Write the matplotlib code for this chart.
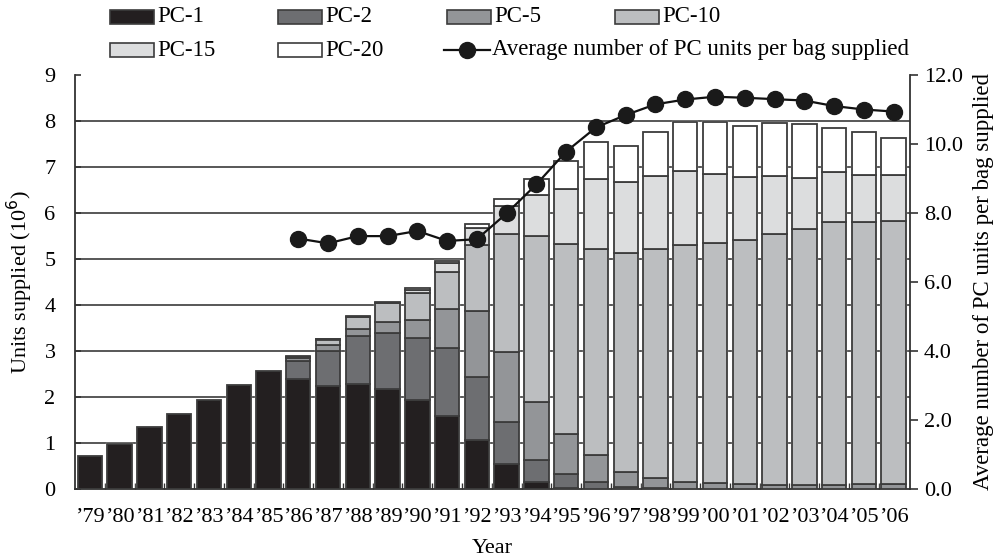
import matplotlib
matplotlib.use("Agg")
import matplotlib.pyplot as plt
import numpy as np
from matplotlib.patches import Rectangle
from matplotlib.lines import Line2D

plt.rcParams['font.family'] = ['Liberation Serif', 'DejaVu Serif']

years = ["\u201979", "\u201980", "\u201981", "\u201982", "\u201983", "\u201984", "\u201985",
         "\u201986", "\u201987", "\u201988", "\u201989", "\u201990", "\u201991", "\u201992",
         "\u201993", "\u201994", "\u201995", "\u201996", "\u201997", "\u201998", "\u201999",
         "\u201900", "\u201901", "\u201902", "\u201903", "\u201904", "\u201905", "\u201906"]

pc1 = [0.72, 0.97, 1.34, 1.62, 1.94, 2.26, 2.57, 2.39, 2.24, 2.28, 2.17, 1.93, 1.59, 1.07,
       0.54, 0.16, 0.03, 0, 0, 0, 0, 0, 0, 0, 0, 0, 0, 0]
pc2 = [0, 0, 0, 0, 0, 0, 0, 0.39, 0.76, 1.04, 1.22, 1.36, 1.47, 1.36,
       0.91, 0.47, 0.29, 0.15, 0.05, 0.03, 0, 0, 0, 0, 0, 0, 0, 0]
pc5 = [0, 0, 0, 0, 0, 0, 0, 0.06, 0.12, 0.15, 0.25, 0.38, 0.85, 1.44,
       1.53, 1.27, 0.87, 0.58, 0.33, 0.22, 0.16, 0.12, 0.10, 0.09, 0.08, 0.08, 0.10, 0.10]
pc10 = [0, 0, 0, 0, 0, 0, 0, 0.03, 0.13, 0.28, 0.41, 0.60, 0.80, 1.43,
        2.56, 3.59, 4.13, 4.49, 4.76, 4.97, 5.14, 5.22, 5.31, 5.45, 5.57, 5.73, 5.70, 5.73]
pc15 = [0, 0, 0, 0, 0, 0, 0, 0.02, 0.02, 0.01, 0.02, 0.05, 0.21, 0.37,
        0.62, 0.90, 1.21, 1.52, 1.53, 1.58, 1.62, 1.51, 1.37, 1.26, 1.10, 1.09, 1.03, 1.00]
pc20 = [0, 0, 0, 0, 0, 0, 0, 0, 0, 0, 0, 0.04, 0.04, 0.08,
        0.15, 0.34, 0.59, 0.80, 0.79, 0.95, 1.05, 1.12, 1.12, 1.15, 1.18, 0.94, 0.92, 0.81]
avg_units = [np.nan] * 7 + [7.26, 7.12, 7.33, 7.33, 7.48, 7.19, 7.24, 7.99, 8.83, 9.78,
                            10.48, 10.84, 11.15, 11.29, 11.37, 11.34, 11.30, 11.26, 11.10,
                            11.00, 10.94]

series = [("PC-1", pc1, "#231f20"), ("PC-2", pc2, "#6d6e71"), ("PC-5", pc5, "#939598"),
          ("PC-10", pc10, "#bcbec0"), ("PC-15", pc15, "#dcddde"), ("PC-20", pc20, "#ffffff")]
line_label = "Average number of PC units per bag supplied"

W, H = 993, 557
fig = plt.figure(figsize=(W / 100, H / 100), dpi=100)
ax = fig.add_axes([75 / W, (H - 489) / H, 835 / W, 414 / H])

x = np.arange(len(years))
edge = "#3c3c3c"
bw = 0.82
fs = 16

ax.set_axisbelow(True)
for yv in range(1, 9):
    ax.axhline(yv, color="#4a4a4a", lw=1.3, zorder=0.5)

totals = np.sum([np.array(s[1]) for s in series], axis=0)
ax.bar(x, totals, width=bw, color="white", edgecolor="white", lw=1.6, zorder=1)

bottom = np.zeros(len(years))
for name, vals, col in series:
    v = np.array(vals, dtype=float)
    m = v > 0
    ax.bar(x[m], v[m], bottom=bottom[m], width=bw, color=col, edgecolor=edge,
           lw=1.3, zorder=3)
    bottom += v

ax.set_xlim(-0.5, 27.55)
ax.set_ylim(0, 9)
ax.set_yticks(range(0, 10))
ax.set_xticks(x)
ax.set_xticklabels(years)
ax.set_xticks(np.arange(0.5, 27, 1), minor=True)
ax.tick_params(axis='x', which='major', length=0, labelsize=fs, pad=14)
ax.tick_params(axis='x', which='minor', direction='in', length=4, width=1, color="#333333")
ax.tick_params(axis='y', direction='in', length=4, width=1.2, labelsize=fs, color="#333333", pad=14)
for s in ['top', 'right']:
    ax.spines[s].set_visible(False)
for s in ['left', 'bottom']:
    ax.spines[s].set_color("#333333")
    ax.spines[s].set_linewidth(1.3)
ax.set_xlabel("Year", fontsize=fs, labelpad=8)
ax.set_ylabel("Units supplied (10$^6$)", fontsize=fs, labelpad=7)

ax2 = ax.twinx()
ax2.set_ylim(0, 12)
ax2.set_yticks(np.arange(0, 13, 2))
ax2.set_yticklabels([f"{v:.1f}" for v in np.arange(0, 13, 2)])
ax2.plot(x, avg_units, color="#111111", lw=1.6, marker="o", markersize=11.5,
         markerfacecolor="#1a1a1a", markeredgecolor="#1a1a1a", zorder=5)
ax2.tick_params(axis='y', direction='out', length=6, width=1.2, labelsize=fs, color="#333333", pad=4)
for s in ['top', 'left', 'bottom']:
    ax2.spines[s].set_visible(False)
ax2.spines['right'].set_color("#333333")
ax2.spines['right'].set_linewidth(1.3)
ax2.set_ylabel(line_label, fontsize=16.5, labelpad=7)

# legend drawn manually in pixel coordinates
def px(xp, yp):
    return xp / W, (H - yp) / H

legend_rows = [
    [(110, "PC-1", "#231f20"), (278, "PC-2", "#6d6e71"), (447, "PC-5", "#939598"), (615, "PC-10", "#bcbec0")],
    [(110, "PC-15", "#dcddde"), (278, "PC-20", "#ffffff")],
]
row_y = [17, 50]
for ry, row in zip(row_y, legend_rows):
    for xs, name, col in row:
        x0, y0 = px(xs, ry + 7)
        fig.patches.append(Rectangle((x0, y0), 44 / W, 14 / H, transform=fig.transFigure,
                                     facecolor=col, edgecolor=edge, lw=1.2))
        tx, ty = px(xs + 47, ry)
        fig.text(tx, ty, name, fontsize=16.5, va="center", ha="left")

lx0, ly = px(444, 50)
lx1, _ = px(490, 50)
fig.lines.append(Line2D([lx0, lx1], [ly, ly], transform=fig.transFigure, color="#111111", lw=1.6))
mx, _ = px(467, 50)
fig.lines.append(Line2D([mx], [ly], transform=fig.transFigure, marker="o", markersize=11.5,
                        color="#1a1a1a"))
tx, ty = px(492, 50)
fig.text(tx, ty, line_label, fontsize=16.5, va="center", ha="left")

fig.savefig("out.png", dpi=100)
